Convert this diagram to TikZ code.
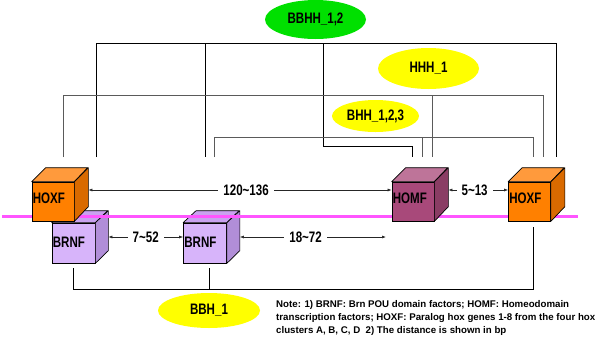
\documentclass[tikz,border=0pt]{standalone}
\usepackage{fontspec}
\setmainfont{Liberation Sans}
\newfontfamily\narrowfont{Liberation Sans}[FakeStretch=0.76]
\usetikzlibrary{arrows.meta,shapes.geometric,calc}
\definecolor{hoxfront}{HTML}{FF8000}
\definecolor{hoxtop}{HTML}{FF9A3C}
\definecolor{hoxside}{HTML}{D96A00}
\definecolor{brnfront}{HTML}{D7B4FA}
\definecolor{brntop}{HTML}{C9A2F0}
\definecolor{brnside}{HTML}{B18ED8}
\definecolor{homfront}{HTML}{A8497A}
\definecolor{homtop}{HTML}{BE7499}
\definecolor{homside}{HTML}{8A3D64}
\definecolor{chrom}{HTML}{FF55FF}
\definecolor{bgreen}{HTML}{00E000}
\definecolor{byellow}{HTML}{FFFF00}
\definecolor{graylink}{HTML}{5A5A5A}
\tikzset{
  lbl/.style={font=\narrowfont\bfseries\fontsize{15.2}{17}\selectfont, inner sep=0pt},
  face/.style={draw=black, line width=0.7pt, inner sep=0pt},
  oval/.style={ellipse, inner sep=0pt, lbl},
  blink/.style={draw=black, line width=0.8pt},
  glink/.style={draw=graylink, line width=1pt},
  dist/.style={draw=black!85, line width=0.6pt, {Latex[length=4pt,width=3pt]}-{Latex[length=4pt,width=3pt]}},
  dlbl/.style={lbl, fill=white, inner xsep=5pt, inner ysep=1pt},
}
% name, position, w, h, dx, dy, colour prefix, label, label yshift
\newcommand\mycube[9]{%
  \node[face, fill=#7front, minimum width=#3pt, minimum height=#4pt] (#1) at (#2) {};
  \filldraw[fill=#7top, draw=black, line width=0.7pt, line join=round]
    (#1.north west) -- ++(#5,-#6) -- ++(#3,0) -- (#1.north east) -- cycle;
  \filldraw[fill=#7side, draw=black, line width=0.7pt, line join=round]
    (#1.north east) -- ++(#5,-#6) -- ++(0,#4) -- (#1.south east) -- cycle;
  \node[lbl, anchor=west] (#1-t) at ([xshift=1pt,yshift=#9pt]#1.west) {#8};
}
\begin{document}
\begin{tikzpicture}[x=1pt,y=-1pt]
\path[use as bounding box] (0,0) rectangle (608,341);

% ellipses
\node[oval, fill=bgreen, minimum width=101pt, minimum height=39pt] (bbhh) at (315.5,19.5) {BBHH\_1,2};
\node[oval, fill=byellow, minimum width=101pt, minimum height=41pt] (hhh) at (428.5,68.5) {HHH\_1};
\node[oval, fill=byellow, minimum width=87pt, minimum height=32pt] (bhh) at (375.5,116) {BHH\_1,2,3};
\node[oval, fill=byellow, minimum width=102pt, minimum height=35pt] (bbh) at (209,310.5) {BBH\_1};

% bracket end points
\coordinate (k1) at (96,157);  \coordinate (k2) at (205,157);
\coordinate (k3) at (412,157); \coordinate (k4) at (556,157);
\coordinate (k3a) at (323,43); \coordinate (k3b) at (323,146);
\coordinate (h1) at (63,157);  \coordinate (h2) at (432,157); \coordinate (h3) at (543,157);
\coordinate (j1) at (214,157); \coordinate (j2) at (422,157); \coordinate (j3) at (533,157);
\coordinate (m1) at (73,268);  \coordinate (m2) at (209,268); \coordinate (m3) at (533,227);

% BBHH_1,2 bracket (black)
\draw[blink] (k1) |- (k4 |- 0,43) -- (k4);
\draw[blink] (k2 |- 0,43) -- (k2);
\draw[blink] (k3a) -- (k3b) -| (k3);
% HHH_1 bracket (gray)
\draw[glink] (h1) |- (h3 |- 0,95) -- (h3);
\draw[glink] (h2 |- 0,95) -- (h2);
% BHH_1,2,3 bracket (gray)
\draw[glink] (j1) |- (j3 |- 0,137) -- (j3);
\draw[glink] (j2 |- 0,137) -- (j2);
% BBH_1 bracket (black)
\draw[blink] (m1) |- (m3 |- 0,289) -- (m3);
\draw[blink] (m2) -- (m2 |- 0,289);

% BRNF cubes
\mycube{brn1}{73.5,243}{43}{40}{13}{12}{brn}{BRNF}{1}
\mycube{brn2}{205,243}{43}{40}{13}{12}{brn}{BRNF}{1}

% chromosome line
\coordinate (chrL) at (2,216);
\coordinate (chrR) at (578,216);
\draw[chrom, line width=3pt] (chrL) -- (chrR);

% HOXF / HOMF cubes
\mycube{hoxL}{53,201.5}{42}{39}{14}{14}{hox}{HOXF}{3}
\mycube{homf}{413,201.5}{42}{39}{14}{14}{hom}{HOMF}{3}
\mycube{hoxR}{529.5,201.5}{42}{39}{14}{14}{hox}{HOXF}{3}

% distances
\draw[dist] ($(hoxL.east)+(14,-11.5)$) -- node[dlbl, pos=0.52] {120\textasciitilde 136} ($(homf.west)+(0,-11.5)$);
\draw[dist] ($(homf.east)+(14,-11.5)$) -- node[dlbl, pos=0.44] {5\textasciitilde 13} ($(hoxR.west)+(0,-11.5)$);
\draw[dist] ($(brn1.east)+(13,-6)$) -- node[dlbl, pos=0.5] {7\textasciitilde 52} ($(brn2.west)+(0,-6)$);
\coordinate (freeR) at (386,237);
\draw[dist] ($(brn2.east)+(13,-6)$) -- node[dlbl, pos=0.45] {18\textasciitilde 72} (freeR);

% note
\node[anchor=north west, align=left, inner sep=0pt,
      font=\bfseries\fontsize{9.7}{13.3}\selectfont] (note) at (276,300)
  {Note: 1) BRNF: Brn POU domain factors; HOMF: Homeodomain\\
   transcription factors; HOXF: Paralog hox genes 1-8 from the four hox\\
   clusters A, B, C, D\ \ 2) The distance is shown in bp};
\end{tikzpicture}
\end{document}
